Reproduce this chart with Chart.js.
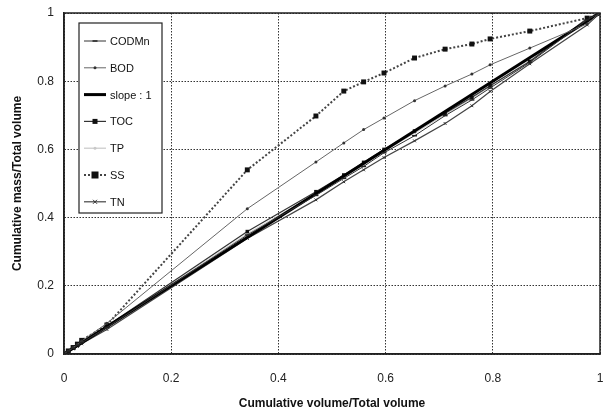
<!DOCTYPE html>
<html>
<head>
<meta charset="utf-8">
<script src="https://cdn.jsdelivr.net/npm/chart.js@4.4.0/dist/chart.umd.min.js"></script>
<style>
  html, body { margin: 0; padding: 0; background: #fff; }
  #wrap { width: 608px; height: 415px; }
</style>
</head>
<body>
<div id="wrap"><canvas id="chart" width="608" height="415"></canvas></div>
<script>
// cumulative volume fractions (shared by all series)
const volume = [0, 0.008, 0.017, 0.025, 0.033, 0.08, 0.342, 0.47, 0.522, 0.559, 0.597, 0.654, 0.711, 0.761, 0.795, 0.869, 0.976, 1];

const codmn = [0, 0.008, 0.017, 0.025, 0.033, 0.078, 0.349, 0.465, 0.515, 0.55, 0.59, 0.64, 0.699, 0.745, 0.78, 0.855, 0.98, 1];
const bod   = [0, 0.009, 0.019, 0.028, 0.038, 0.09, 0.426, 0.563, 0.619, 0.658, 0.692, 0.743, 0.786, 0.821, 0.848, 0.897, 0.968, 1];
const toc   = [0, 0.009, 0.018, 0.026, 0.035, 0.082, 0.359, 0.476, 0.525, 0.562, 0.6, 0.654, 0.706, 0.753, 0.787, 0.858, 0.984, 1];
const tp    = [0, 0.008, 0.017, 0.025, 0.034, 0.08, 0.352, 0.47, 0.52, 0.555, 0.595, 0.648, 0.703, 0.75, 0.785, 0.86, 0.975, 1];
const ss    = [0, 0.009, 0.019, 0.029, 0.04, 0.085, 0.54, 0.698, 0.771, 0.798, 0.824, 0.868, 0.894, 0.909, 0.924, 0.947, 0.985, 1];
const tn    = [0, 0.007, 0.015, 0.022, 0.03, 0.072, 0.339, 0.452, 0.505, 0.54, 0.576, 0.625, 0.676, 0.728, 0.77, 0.851, 0.965, 1];

const slopeX = [0, 1];
const slopeY = [0, 1];

const axisTicks = [0, 0.2, 0.4, 0.6, 0.8, 1];
const tickLabels = ['0', '0.2', '0.4', '0.6', '0.8', '1'];

const labels = ['CODMn', 'BOD', 'slope : 1', 'TOC', 'TP', 'SS', 'TN'];

function pts(xs, ys) {
  return xs.map((x, i) => ({x: x, y: ys[i]}));
}

const datasets = [
  {label: labels[0], data: pts(volume, codmn), borderColor: '#333', borderWidth: 1,
   pointStyle: 'line', pointRadius: 2.5, pointBorderWidth: 1.5, pointBorderColor: '#222', pointBackgroundColor: '#222'},
  {label: labels[1], data: pts(volume, bod), borderColor: '#666', borderWidth: 1,
   pointStyle: 'circle', pointRadius: 1.5, pointBorderWidth: 0, pointBackgroundColor: '#333'},
  {label: labels[2], data: pts(slopeX, slopeY), borderColor: '#000', borderWidth: 3,
   pointRadius: 0},
  {label: labels[3], data: pts(volume, toc), borderColor: '#333', borderWidth: 1.2,
   pointStyle: 'rect', pointRadius: 2.5, pointBorderWidth: 0, pointBackgroundColor: '#111'},
  {label: labels[4], data: pts(volume, tp), borderColor: '#c8c8c8', borderWidth: 1.2,
   pointStyle: 'circle', pointRadius: 1.5, pointBorderWidth: 0, pointBackgroundColor: '#c8c8c8'},
  {label: labels[5], data: pts(volume, ss), borderColor: '#444', borderWidth: 2, borderDash: [2, 2],
   pointStyle: 'rect', pointRadius: 3.5, pointBorderWidth: 0, pointBackgroundColor: '#111'},
  {label: labels[6], data: pts(volume, tn), borderColor: '#444', borderWidth: 1.2,
   pointStyle: 'crossRot', pointRadius: 2, pointBorderWidth: 1, pointBorderColor: '#333'}
];

function drawMarker(ctx, ds, x, y) {
  const r = ds.pointRadius || 0;
  if (!r) return;
  ctx.save();
  ctx.fillStyle = ds.pointBackgroundColor || ds.borderColor;
  ctx.strokeStyle = ds.pointBorderColor || ds.borderColor;
  ctx.lineWidth = ds.pointBorderWidth || 1;
  ctx.setLineDash([]);
  ctx.beginPath();
  if (ds.pointStyle === 'rect') {
    ctx.fillRect(x - r, y - r, r * 2, r * 2);
  } else if (ds.pointStyle === 'circle') {
    ctx.arc(x, y, r, 0, Math.PI * 2);
    ctx.fill();
  } else if (ds.pointStyle === 'line') {
    ctx.moveTo(x - r, y); ctx.lineTo(x + r, y); ctx.stroke();
  } else if (ds.pointStyle === 'crossRot') {
    ctx.moveTo(x - r, y - r); ctx.lineTo(x + r, y + r);
    ctx.moveTo(x - r, y + r); ctx.lineTo(x + r, y - r);
    ctx.stroke();
  }
  ctx.restore();
}

// frame around the plot and an Excel-like legend box inside it
const frameAndLegend = {
  id: 'frameAndLegend',
  afterDraw(chart) {
    const {ctx, chartArea: a} = chart;
    ctx.save();
    ctx.strokeStyle = '#222';
    ctx.lineWidth = 1.5;
    ctx.strokeRect(a.left, a.top, a.right - a.left, a.bottom - a.top);

    const bx = a.left + 15, by = a.top + 10, bw = 83, bh = 190;
    ctx.fillStyle = '#fff';
    ctx.fillRect(bx, by, bw, bh);
    ctx.lineWidth = 1.2;
    ctx.strokeStyle = '#222';
    ctx.strokeRect(bx, by, bw, bh);

    const step = 26.8;
    ctx.font = '11px Arial, "Liberation Sans", sans-serif';
    ctx.textBaseline = 'middle';
    ctx.textAlign = 'left';
    chart.data.datasets.forEach((ds, i) => {
      const y = by + 18 + i * step;
      ctx.save();
      ctx.strokeStyle = ds.borderColor;
      ctx.lineWidth = ds.borderWidth;
      ctx.setLineDash(ds.borderDash || []);
      ctx.beginPath();
      ctx.moveTo(bx + 5, y);
      ctx.lineTo(bx + 27, y);
      ctx.stroke();
      ctx.restore();
      drawMarker(ctx, ds, bx + 16, y);
      ctx.fillStyle = '#111';
      ctx.fillText(ds.label, bx + 31, y + 1);
    });
    ctx.restore();
  }
};

const font = {family: 'Arial, "Liberation Sans", sans-serif', size: 12};
const fmt = v => tickLabels[axisTicks.indexOf(Math.round(v * 10) / 10)] ?? String(v);

new Chart(document.getElementById('chart'), {
  type: 'line',
  data: {datasets},
  options: {
    responsive: false,
    animation: false,
    layout: {padding: {top: 13, right: 8, left: 0, bottom: 0}},
    plugins: {
      legend: {display: false},
      tooltip: {enabled: false}
    },
    elements: {line: {tension: 0, fill: false}},
    scales: {
      x: {
        type: 'linear',
        min: 0,
        max: 1,
        afterBuildTicks: s => { s.ticks = axisTicks.map(v => ({value: v})); },
        afterFit: s => { s.height = 61; s.paddingLeft = 0; s.paddingRight = 0; },
        grid: {color: '#333', lineWidth: 1, drawTicks: false},
        border: {display: true, color: '#222', width: 1.5, dash: [1.5, 1.5]},
        ticks: {color: '#222', font, padding: 17, maxRotation: 0, callback: fmt},
        title: {display: true, text: 'Cumulative volume/Total volume', color: '#111',
                font: {family: font.family, size: 12, weight: 'bold'}, padding: {top: 4}}
      },
      y: {
        min: 0,
        max: 1,
        afterBuildTicks: s => { s.ticks = axisTicks.map(v => ({value: v})); },
        afterFit: s => { s.width = 64; s.paddingTop = 0; s.paddingBottom = 0; },
        grid: {color: '#333', lineWidth: 1, drawTicks: false},
        border: {display: true, color: '#222', width: 1.5, dash: [1.5, 1.5]},
        ticks: {color: '#222', font, padding: 10, callback: fmt},
        title: {display: true, text: 'Cumulative mass/Total volume', color: '#111',
                font: {family: font.family, size: 12, weight: 'bold'}, padding: {top: 10, bottom: 0}}
      }
    }
  },
  plugins: [frameAndLegend]
});
</script>
</body>
</html>
